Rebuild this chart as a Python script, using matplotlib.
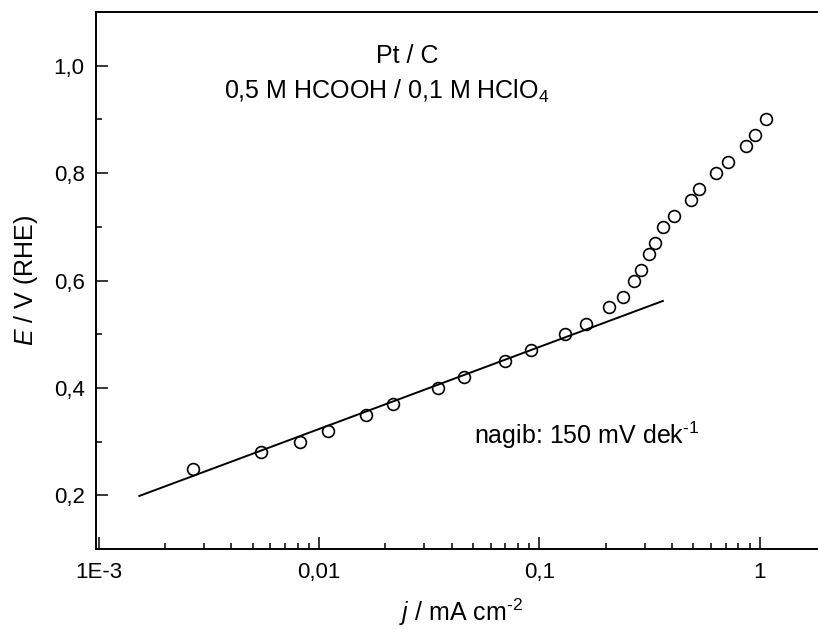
import numpy as np
import matplotlib
matplotlib.use("Agg")
import matplotlib.pyplot as plt
from matplotlib.ticker import FixedLocator, FixedFormatter, LogLocator, NullFormatter, MultipleLocator

"""
Tafel plot: Pt/C in 0,5 M HCOOH / 0,1 M HClO4
"""

# current density (mA cm-2) and potential (V vs RHE)
j_data = [0.00268, 0.00547, 0.00822, 0.0110, 0.0164, 0.0217, 0.0348, 0.0457,
          0.0698, 0.0917, 0.131, 0.162, 0.207, 0.239, 0.269, 0.288, 0.313,
          0.333, 0.363, 0.409, 0.485, 0.532, 0.630, 0.718, 0.868, 0.952, 1.067]
E_data = [0.25, 0.28, 0.30, 0.32, 0.35, 0.37, 0.40, 0.42,
          0.45, 0.47, 0.50, 0.52, 0.55, 0.57, 0.60, 0.62, 0.65,
          0.67, 0.70, 0.72, 0.75, 0.77, 0.80, 0.82, 0.85, 0.87, 0.90]

# Tafel fit line end points
j_fit = [0.00153, 0.363]
E_fit = [0.199, 0.562]

x_ticks = [1e-3, 0.01, 0.1, 1]
x_ticklabels = ["1E-3", "0,01", "0,1", "1"]
y_ticks = [0.2, 0.4, 0.6, 0.8, 1.0]
y_ticklabels = ["0,2", "0,4", "0,6", "0,8", "1,0"]

plt.rcParams["font.family"] = ["Liberation Sans", "DejaVu Sans"]
plt.rcParams["mathtext.fontset"] = "custom"
plt.rcParams["mathtext.rm"] = "Liberation Sans"
plt.rcParams["mathtext.it"] = "Liberation Sans:italic"
plt.rcParams["mathtext.default"] = "regular"

HY = "\u2010"  # plain hyphen, the reference does not use a minus sign

fig = plt.figure(figsize=(8.18, 6.29), dpi=100)
ax = fig.add_axes([0.117, 0.127, 0.893, 0.854])

ax.plot(j_fit, E_fit, color="black", lw=1.4)
ax.plot(j_data, E_data, "o", mfc="none", mec="black", ms=8.5, mew=1.2)

ax.set_xscale("log")
ax.set_xlim(9.7e-4, 2.0)
ax.set_ylim(0.1, 1.1)

ax.xaxis.set_major_locator(FixedLocator(x_ticks))
ax.xaxis.set_major_formatter(FixedFormatter(x_ticklabels))
ax.xaxis.set_minor_locator(LogLocator(base=10, subs=np.arange(2, 10)))
ax.xaxis.set_minor_formatter(NullFormatter())
ax.yaxis.set_major_locator(FixedLocator(y_ticks))
ax.yaxis.set_major_formatter(FixedFormatter(y_ticklabels))
ax.yaxis.set_minor_locator(MultipleLocator(0.1))

ax.tick_params(which="both", direction="in", top=False, right=False,
               width=1.1, labelsize=16, pad=9)
ax.tick_params(axis="y", pad=8)
ax.tick_params(which="major", length=8.5)
ax.tick_params(which="minor", length=4.5)
for s in ax.spines.values():
    s.set_linewidth(1.4)

ax.set_xlabel("$\\mathit{j}$ / mA cm$^{" + HY + "2}$", fontsize=18, labelpad=10)
ax.set_ylabel("$\\mathit{E}$ / V (RHE)", fontsize=18, labelpad=10)

ax.text(0.426, 0.918, "Pt / C", transform=ax.transAxes, fontsize=18,
        ha="center", va="center")
ax.text(0.398, 0.853, "0,5 M HCOOH / 0,1 M HClO$_4$", transform=ax.transAxes,
        fontsize=18, ha="center", va="center")
ax.text(0.0506, 0.312, "nagib: 150 mV dek$^{" + HY + "1}$", fontsize=18,
        ha="left", va="center")

fig.savefig("out.png", dpi=100)
